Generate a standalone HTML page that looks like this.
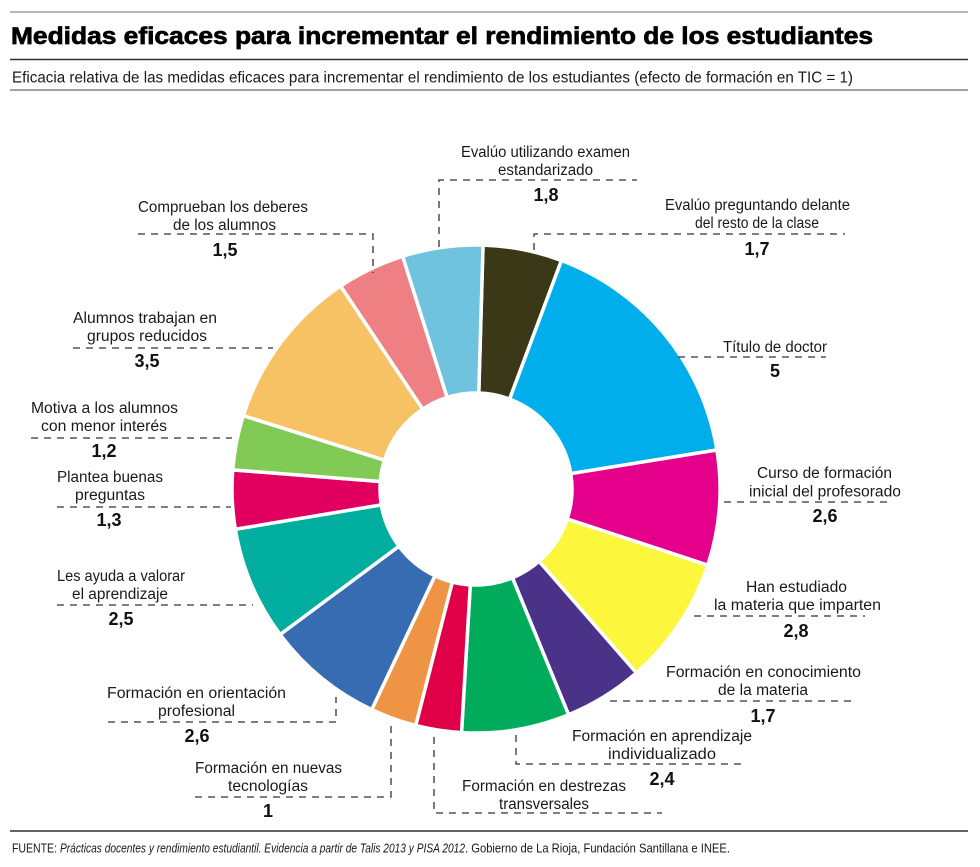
<!DOCTYPE html>
<html lang="es">
<head>
<meta charset="utf-8">
<title>Medidas eficaces para incrementar el rendimiento de los estudiantes</title>
<style>
  html, body { margin: 0; padding: 0; background: #ffffff; }
  body { width: 980px; height: 867px; overflow: hidden; }
  svg { display: block; }
  .lbl { font-family: "Liberation Sans", sans-serif; font-size: 15.5px; fill: #1a1a1a; }
  .val { font-family: "Liberation Sans", sans-serif; font-size: 18px; font-weight: bold; fill: #111; text-anchor: middle; }
  .dash { fill: none; stroke: #333; stroke-width: 1.3; stroke-dasharray: 7 6; }
  .seg { stroke: #ffffff; stroke-width: 3.5; stroke-linejoin: miter; }
</style>
</head>
<body>
<svg width="980" height="867" viewBox="0 0 980 867" xmlns="http://www.w3.org/2000/svg">
  <!-- header rules -->
  <line x1="10" y1="12" x2="968" y2="12" stroke="#8a8a8a" stroke-width="1.2"/>
  <text x="11" y="44" font-family="Liberation Sans, sans-serif" font-size="24" font-weight="bold" fill="#000" stroke="#000" stroke-width="0.7" textLength="862" lengthAdjust="spacingAndGlyphs">Medidas eficaces para incrementar el rendimiento de los estudiantes</text>
  <line x1="10" y1="59.5" x2="968" y2="59.5" stroke="#333" stroke-width="1.6"/>
  <text x="12" y="82.5" font-family="Liberation Sans, sans-serif" font-size="15.5" fill="#1a1a1a" textLength="841" lengthAdjust="spacingAndGlyphs">Eficacia relativa de las medidas eficaces para incrementar el rendimiento de los estudiantes (efecto de formación en TIC = 1)</text>
  <line x1="10" y1="90" x2="968" y2="90" stroke="#6a6a6a" stroke-width="1.2"/>

  <!-- donut segments -->
  <g class="seg">
    <path fill="#3a3817" d="M483.02,245.10 A244,244 0 0 1 561.45,260.45 L509.62,399.08 A96,96 0 0 0 478.76,393.04 Z"/>
    <path fill="#00aeeb" d="M561.45,260.45 A244,244 0 0 1 716.86,449.99 L570.77,473.65 A96,96 0 0 0 509.62,399.08 Z"/>
    <path fill="#e4008a" d="M716.86,449.99 A244,244 0 0 1 707.79,565.21 L567.20,518.98 A96,96 0 0 0 570.77,473.65 Z"/>
    <path fill="#fcf73c" d="M707.79,565.21 A244,244 0 0 1 636.40,672.86 L539.11,561.34 A96,96 0 0 0 567.20,518.98 Z"/>
    <path fill="#4b3289" d="M636.40,672.86 A244,244 0 0 1 568.59,714.75 L512.43,577.82 A96,96 0 0 0 539.11,561.34 Z"/>
    <path fill="#00ac5b" d="M568.59,714.75 A244,244 0 0 1 461.53,732.57 L470.31,584.83 A96,96 0 0 0 512.43,577.82 Z"/>
    <path fill="#e00047" d="M461.53,732.57 A244,244 0 0 1 415.73,725.44 L452.29,582.03 A96,96 0 0 0 470.31,584.83 Z"/>
    <path fill="#ee9444" d="M415.73,725.44 A244,244 0 0 1 371.72,709.60 L434.97,575.79 A96,96 0 0 0 452.29,582.03 Z"/>
    <path fill="#386cb2" d="M371.72,709.60 A244,244 0 0 1 280.11,634.48 L398.93,546.24 A96,96 0 0 0 434.97,575.79 Z"/>
    <path fill="#00ad9f" d="M280.11,634.48 A244,244 0 0 1 235.35,529.27 L381.32,504.84 A96,96 0 0 0 398.93,546.24 Z"/>
    <path fill="#e1005f" d="M235.35,529.27 A244,244 0 0 1 232.75,469.86 L380.30,481.47 A96,96 0 0 0 381.32,504.84 Z"/>
    <path fill="#80ca55" d="M232.75,469.86 A244,244 0 0 1 243.29,415.63 L384.44,460.13 A96,96 0 0 0 380.30,481.47 Z"/>
    <path fill="#f6c263" d="M243.29,415.63 A244,244 0 0 1 340.62,286.00 L422.74,409.13 A96,96 0 0 0 384.44,460.13 Z"/>
    <path fill="#ee8084" d="M340.62,286.00 A244,244 0 0 1 402.63,256.29 L447.13,397.44 A96,96 0 0 0 422.74,409.13 Z"/>
    <path fill="#6fc3de" d="M402.63,256.29 A244,244 0 0 1 483.02,245.10 L478.76,393.04 A96,96 0 0 0 447.13,397.44 Z"/>
  </g>

  <!-- leader lines -->
  <polyline class="dash" points="439,247 439,180 637,180"/>
  <polyline class="dash" points="534,250 534,234 845,234"/>
  <polyline class="dash" points="138,234 373,234 373,273"/>
  <polyline class="dash" points="73,348 273,348"/>
  <polyline class="dash" points="678,357 826,357"/>
  <polyline class="dash" points="31,438 232,438"/>
  <polyline class="dash" points="724,502 893,502"/>
  <polyline class="dash" points="57,507 231,507"/>
  <polyline class="dash" points="57,605 253,605"/>
  <polyline class="dash" points="694,616 865,616"/>
  <polyline class="dash" points="610,701 852,701"/>
  <polyline class="dash" points="108,722 336,722 336,697"/>
  <polyline class="dash" points="516,735 516,764 745,764"/>
  <polyline class="dash" points="195,797 391,797 391,722"/>
  <polyline class="dash" points="434,737 434,813 662,813"/>

  <!-- labels -->
  <text class="lbl" x="461" y="157" textLength="169" lengthAdjust="spacingAndGlyphs">Evalúo utilizando examen</text>
  <text class="lbl" x="498" y="175" textLength="95" lengthAdjust="spacingAndGlyphs">estandarizado</text>
  <text class="val" x="546" y="201">1,8</text>

  <text class="lbl" x="665" y="210" textLength="185" lengthAdjust="spacingAndGlyphs">Evalúo preguntando delante</text>
  <text class="lbl" x="695" y="228" textLength="124" lengthAdjust="spacingAndGlyphs">del resto de la clase</text>
  <text class="val" x="757" y="255">1,7</text>

  <text class="lbl" x="138" y="212" textLength="170" lengthAdjust="spacingAndGlyphs">Comprueban los deberes</text>
  <text class="lbl" x="173" y="230" textLength="103" lengthAdjust="spacingAndGlyphs">de los alumnos</text>
  <text class="val" x="225" y="256">1,5</text>

  <text class="lbl" x="73" y="323" textLength="144" lengthAdjust="spacingAndGlyphs">Alumnos trabajan en</text>
  <text class="lbl" x="87" y="341" textLength="120" lengthAdjust="spacingAndGlyphs">grupos reducidos</text>
  <text class="val" x="147" y="367">3,5</text>

  <text class="lbl" x="723" y="352" textLength="104" lengthAdjust="spacingAndGlyphs">Título de doctor</text>
  <text class="val" x="775" y="377">5</text>

  <text class="lbl" x="31" y="413" textLength="147" lengthAdjust="spacingAndGlyphs">Motiva a los alumnos</text>
  <text class="lbl" x="41" y="431" textLength="126" lengthAdjust="spacingAndGlyphs">con menor interés</text>
  <text class="val" x="104" y="457">1,2</text>

  <text class="lbl" x="757" y="478" textLength="135" lengthAdjust="spacingAndGlyphs">Curso de formación</text>
  <text class="lbl" x="749" y="496.5" textLength="152" lengthAdjust="spacingAndGlyphs">inicial del profesorado</text>
  <text class="val" x="825" y="522">2,6</text>

  <text class="lbl" x="57" y="482" textLength="106" lengthAdjust="spacingAndGlyphs">Plantea buenas</text>
  <text class="lbl" x="75" y="500" textLength="70" lengthAdjust="spacingAndGlyphs">preguntas</text>
  <text class="val" x="109" y="526">1,3</text>

  <text class="lbl" x="57" y="581" textLength="128" lengthAdjust="spacingAndGlyphs">Les ayuda a valorar</text>
  <text class="lbl" x="72" y="599" textLength="96" lengthAdjust="spacingAndGlyphs">el aprendizaje</text>
  <text class="val" x="121" y="625">2,5</text>

  <text class="lbl" x="746" y="592" textLength="101" lengthAdjust="spacingAndGlyphs">Han estudiado</text>
  <text class="lbl" x="714" y="610" textLength="167" lengthAdjust="spacingAndGlyphs">la materia que imparten</text>
  <text class="val" x="796" y="637">2,8</text>

  <text class="lbl" x="666" y="677" textLength="195" lengthAdjust="spacingAndGlyphs">Formación en conocimiento</text>
  <text class="lbl" x="718" y="695" textLength="90" lengthAdjust="spacingAndGlyphs">de la materia</text>
  <text class="val" x="763" y="722">1,7</text>

  <text class="lbl" x="107" y="698" textLength="179" lengthAdjust="spacingAndGlyphs">Formación en orientación</text>
  <text class="lbl" x="158" y="716" textLength="77" lengthAdjust="spacingAndGlyphs">profesional</text>
  <text class="val" x="197" y="742">2,6</text>

  <text class="lbl" x="572" y="741" textLength="180" lengthAdjust="spacingAndGlyphs">Formación en aprendizaje</text>
  <text class="lbl" x="608" y="759" textLength="108" lengthAdjust="spacingAndGlyphs">individualizado</text>
  <text class="val" x="662" y="785">2,4</text>

  <text class="lbl" x="195" y="773" textLength="147" lengthAdjust="spacingAndGlyphs">Formación en nuevas</text>
  <text class="lbl" x="228" y="791" textLength="80" lengthAdjust="spacingAndGlyphs">tecnologías</text>
  <text class="val" x="268" y="817">1</text>

  <text class="lbl" x="462" y="791" textLength="164" lengthAdjust="spacingAndGlyphs">Formación en destrezas</text>
  <text class="lbl" x="499" y="809" textLength="90" lengthAdjust="spacingAndGlyphs">transversales</text>

  <!-- footer -->
  <line x1="10" y1="831" x2="968" y2="831" stroke="#333" stroke-width="1.5"/>
  <text x="12" y="852.5" font-family="Liberation Sans, sans-serif" font-size="12.5" fill="#1a1a1a" textLength="45" lengthAdjust="spacingAndGlyphs">FUENTE:</text>
  <text x="60" y="852.5" font-family="Liberation Sans, sans-serif" font-size="12.5" font-style="italic" fill="#1a1a1a" textLength="405" lengthAdjust="spacingAndGlyphs">Prácticas docentes y rendimiento estudiantil. Evidencia a partir de Talis 2013 y PISA 2012</text>
  <text x="465" y="852.5" font-family="Liberation Sans, sans-serif" font-size="12.5" fill="#1a1a1a" textLength="265" lengthAdjust="spacingAndGlyphs">. Gobierno de La Rioja, Fundación Santillana e INEE.</text>
</svg>
</body>
</html>
